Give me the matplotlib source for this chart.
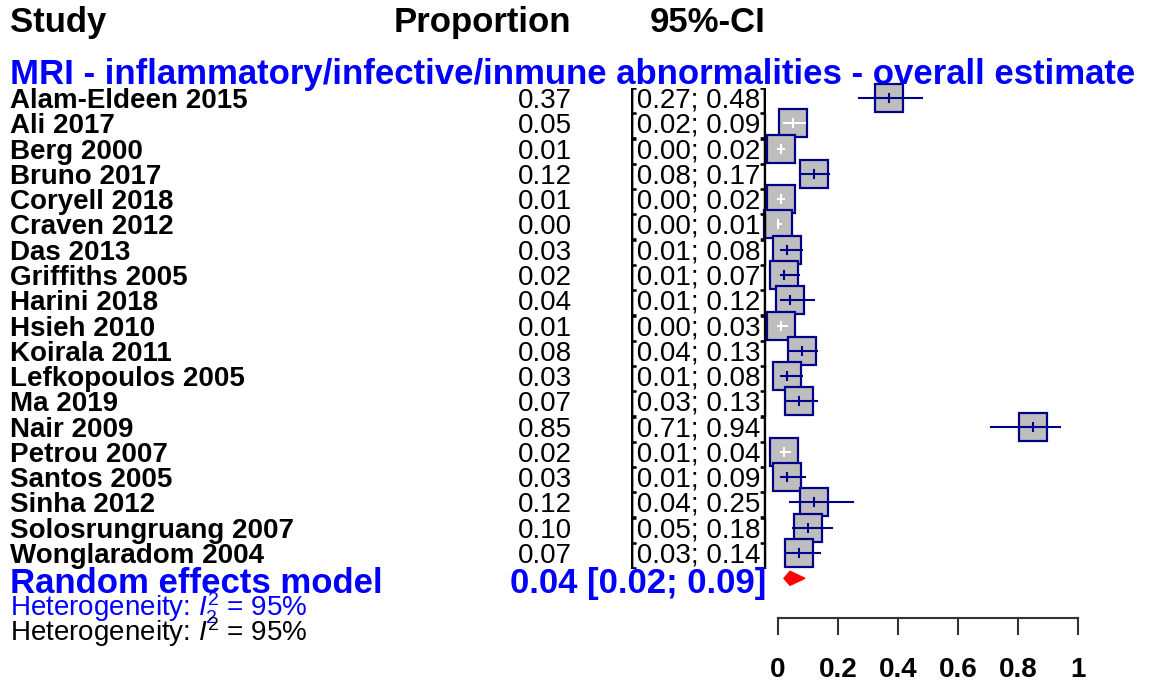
import matplotlib
matplotlib.use("Agg")
import matplotlib.pyplot as plt
from matplotlib.patches import Rectangle, Polygon
from matplotlib import transforms

plt.rcParams['font.family'] = ['Liberation Sans', 'DejaVu Sans']
plt.rcParams['mathtext.fontset'] = 'custom'
plt.rcParams['mathtext.rm'] = 'Liberation Sans'
plt.rcParams['mathtext.it'] = 'Liberation Sans:italic'

# study data
studies = ["Alam-Eldeen 2015", "Ali 2017", "Berg 2000", "Bruno 2017", "Coryell 2018",
           "Craven 2012", "Das 2013", "Griffiths 2005", "Harini 2018", "Hsieh 2010",
           "Koirala 2011", "Lefkopoulos 2005", "Ma 2019", "Nair 2009", "Petrou 2007",
           "Santos 2005", "Sinha 2012", "Solosrungruang 2007", "Wonglaradom 2004"]
prop = [0.37, 0.05, 0.01, 0.12, 0.01, 0.00, 0.03, 0.02, 0.04, 0.01,
        0.08, 0.03, 0.07, 0.85, 0.02, 0.03, 0.12, 0.10, 0.07]
lower = [0.27, 0.02, 0.00, 0.08, 0.00, 0.00, 0.01, 0.01, 0.01, 0.00,
         0.04, 0.01, 0.03, 0.71, 0.01, 0.01, 0.04, 0.05, 0.03]
upper = [0.48, 0.09, 0.02, 0.17, 0.02, 0.01, 0.08, 0.07, 0.12, 0.03,
         0.13, 0.08, 0.13, 0.94, 0.04, 0.09, 0.25, 0.18, 0.14]

# pooled estimate
re_est, re_lo, re_hi = 0.04, 0.02, 0.09
i2 = 95
xticks = [0, 0.2, 0.4, 0.6, 0.8, 1]
xtick_labels = ["0", "0.2", "0.4", "0.6", "0.8", "1"]

title = "MRI - inflammatory/infective/inmune abnormalities - overall estimate"

W, H = 1150, 681
fig = plt.figure(figsize=(W / 100, H / 100), dpi=100)
ax = fig.add_axes([0, 0, 1, 1])

# forest scale: x=0 at 778px, 300px per unit; rows 25.28px apart starting at 98px
x0_px, x_unit = 778, 300.0
row0_px, row_h = 98, 25.28
ax.set_xlim(-x0_px / x_unit, (W - x0_px) / x_unit)
ax.set_ylim((H - row0_px) / row_h, -row0_px / row_h)
ax.axis('off')


def row_at(px):
    return (px - row0_px) / row_h


# x in pixels across the figure, y in rows
tr = transforms.blended_transform_factory(ax.transAxes, ax.transData)


def put(px, y, s, **kw):
    ax.text(px / W, y, s, transform=tr, **kw)


navy = "#00008B"
blue = "#0000FF"
fs = 20
fs_big = 25

# headers and title
put(10, row_at(32), "Study", fontsize=fs_big, fontweight='bold', va='baseline')
put(571, row_at(32), "Proportion", fontsize=fs_big, fontweight='bold', va='baseline', ha='right')
put(766, row_at(32), "95%-CI", fontsize=fs_big, fontweight='bold', va='baseline', ha='right')
put(10, row_at(84), title, fontsize=fs_big, fontweight='bold', va='baseline', color=blue)

hw = 14 / x_unit
hh = 14 / row_h
tick_h = 4 / row_h
for i, name in enumerate(studies):
    base = i + 10 / row_h
    put(10, base, name, fontsize=fs, fontweight='bold', va='baseline')
    put(572, base, f"{prop[i]:.2f}", fontsize=fs, va='baseline', ha='right')
    put(629, base, f"[{lower[i]:.2f}; {upper[i]:.2f}]", fontsize=fs, va='baseline')

    ax.add_patch(Rectangle((prop[i] - hw, i - hh), 2 * hw, 2 * hh,
                           facecolor="#BEBEBE", edgecolor=navy, linewidth=1.6, zorder=2))
    inside = lower[i] >= prop[i] - hw and upper[i] <= prop[i] + hw
    lc = "white" if inside else navy
    ax.plot([lower[i], upper[i]], [i, i], color=lc, linewidth=1.5, zorder=3)
    ax.plot([prop[i], prop[i]], [i - tick_h, i + tick_h], color=lc, linewidth=1.5, zorder=3)

# random effects row
n = len(studies)
put(10, row_at(593), "Random effects model", fontsize=fs_big, fontweight='bold',
    va='baseline', color=blue)
put(766, row_at(593), f"{re_est:.2f} [{re_lo:.2f}; {re_hi:.2f}]", fontsize=fs_big,
    fontweight='bold', va='baseline', ha='right', color=blue)
dh = 7 / row_h
ax.add_patch(Polygon([(re_lo, n), (re_est, n - dh), (re_hi, n), (re_est, n + dh)],
                     closed=True, facecolor="red", edgecolor="red", linewidth=1, zorder=3))

put(10, row_at(616), rf"Heterogeneity: $I^2_2$ = {i2}%", fontsize=fs, va='baseline', color=blue)
put(10, row_at(641), rf"Heterogeneity: $I^2$ = {i2}%", fontsize=fs, va='baseline')

# x axis
axis_y = row_at(618)
tick_len = row_at(634) - axis_y
ax.plot([xticks[0], xticks[-1]], [axis_y, axis_y], color="#333333", linewidth=1.5)
for t, lab in zip(xticks, xtick_labels):
    ax.plot([t, t], [axis_y, axis_y + tick_len], color="#333333", linewidth=1.5)
    ax.text(t, row_at(677), lab, fontsize=fs, fontweight='bold', ha='center', va='baseline')

fig.savefig("out.png", dpi=100)
